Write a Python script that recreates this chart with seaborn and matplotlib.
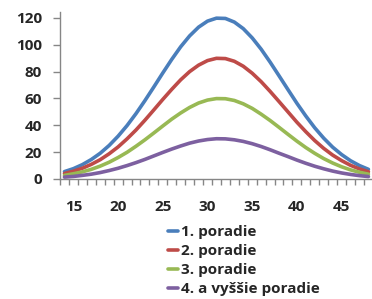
import matplotlib
matplotlib.use("Agg")
import matplotlib.pyplot as plt
import seaborn as sns
import pandas as pd
from matplotlib.ticker import MultipleLocator

sns.set_style("white")
plt.rcParams['font.family'] = ['Open Sans', 'DejaVu Sans']
plt.rcParams['font.weight'] = 'bold'

# x values (age) and the four curves
ages = list(range(14, 49))
poradie_1 = [5.5, 7.7, 10.7, 14.5, 19.2, 25.0, 31.9, 39.8, 48.7, 58.4, 68.6, 79.0,
             89.1, 98.5, 106.6, 113.1, 117.6, 119.8, 119.6, 116.9, 112.0, 105.1,
             96.7, 87.1, 76.9, 66.6, 56.4, 46.9, 38.1, 30.4, 23.7, 18.2, 13.6, 10.0, 7.2]
poradie_2 = [4.1, 5.8, 8.0, 10.9, 14.4, 18.8, 23.9, 29.9, 36.5, 43.8, 51.5, 59.3,
             66.8, 73.9, 80.0, 84.8, 88.2, 89.9, 89.7, 87.7, 84.0, 78.8, 72.5,
             65.3, 57.7, 50.0, 42.3, 35.2, 28.6, 22.8, 17.8, 13.7, 10.2, 7.5, 5.4]
poradie_3 = [2.7, 3.9, 5.3, 7.2, 9.6, 12.5, 16.0, 19.9, 24.4, 29.2, 34.3, 39.5,
             44.6, 49.2, 53.3, 56.6, 58.8, 59.9, 59.8, 58.5, 56.0, 52.6, 48.3,
             43.6, 38.5, 33.3, 28.2, 23.4, 19.1, 15.2, 11.9, 9.1, 6.8, 5.0, 3.6]
poradie_4 = [1.4, 1.9, 2.7, 3.6, 4.8, 6.3, 8.0, 10.0, 12.2, 14.6, 17.2, 19.8,
             22.3, 24.6, 26.7, 28.3, 29.4, 30.0, 29.9, 29.2, 28.0, 26.3, 24.2,
             21.8, 19.2, 16.7, 14.1, 11.7, 9.5, 7.6, 5.9, 4.5, 3.4, 2.5, 1.8]
labels = ['1. poradie', '2. poradie', '3. poradie', '4. a vyššie poradie']
colors = ['#4A7EBB', '#BE4B48', '#98B954', '#7D60A0']

df = pd.DataFrame({
    'x': ages * 4,
    'value': poradie_1 + poradie_2 + poradie_3 + poradie_4,
    'series': [l for l in labels for _ in ages],
})

W, H = 372, 299
fig = plt.figure(figsize=(W / 100, H / 100), dpi=100)
ax = fig.add_axes([60 / W, (H - 179) / H, (W - 60) / W, (179 - 12) / H])

sns.lineplot(data=df, x='x', y='value', hue='series', palette=colors,
             linewidth=2.6, ax=ax)

ax.set_xlim(13.5, 48.4)
ax.set_ylim(0, 124.4)
ax.set_yticks(range(0, 121, 20))
ax.set_xticks(range(15, 46, 5))
ax.xaxis.set_minor_locator(MultipleLocator(1, offset=0.5))
ax.set_xlabel('')
ax.set_ylabel('')

for s in ['top', 'right']:
    ax.spines[s].set_visible(False)
for s in ['left', 'bottom']:
    ax.spines[s].set_color('#868686')
    ax.spines[s].set_linewidth(1)

ax.tick_params(axis='y', which='major', direction='out', length=5, width=1,
               color='#868686', pad=8, labelsize=11, left=True)
ax.tick_params(axis='x', which='major', length=0, pad=15, labelsize=11, bottom=True)
ax.tick_params(axis='x', which='minor', direction='out', length=4, width=1,
               color='#868686', bottom=True)
for t in ax.get_xticklabels() + ax.get_yticklabels():
    t.set_fontweight('bold')

handles, _ = ax.get_legend_handles_labels()
ax.get_legend().remove()
fig.legend(handles, labels, loc='upper left', bbox_to_anchor=(168 / W, 1 - 225 / H),
           frameon=False, borderpad=0, borderaxespad=0, handlelength=0.65,
           handletextpad=0.2, labelspacing=0.33,
           prop={'family': ['Open Sans', 'DejaVu Sans'], 'weight': 'bold', 'size': 11})

fig.savefig('out.png', dpi=100)
